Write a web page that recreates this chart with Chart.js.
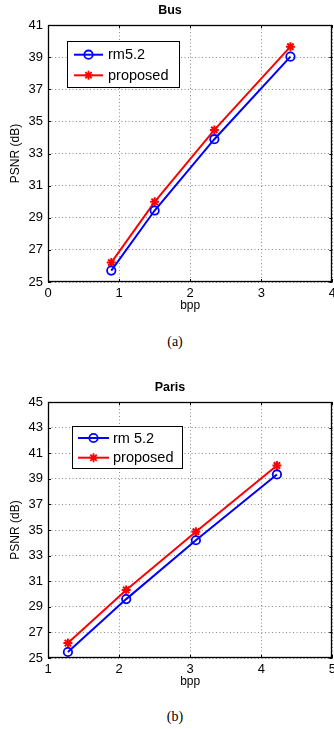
<!DOCTYPE html>
<html>
<head>
<meta charset="utf-8">
<script src="https://cdn.jsdelivr.net/npm/chart.js@4/dist/chart.umd.min.js"></script>
<style>
  html, body { margin: 0; padding: 0; background: #fff; width: 334px; height: 729px; overflow: hidden; }
  .wrap { position: absolute; left: 0; width: 340px; }
  .cap { position: absolute; left: 0; width: 350px; text-align: center; font-family: "Liberation Serif", "Times New Roman", serif; font-size: 14px; line-height: 16px; color: #000; }
</style>
</head>
<body>
<div class="wrap" style="top:0px;height:320px"><canvas id="c1" width="340" height="320"></canvas></div>
<div class="cap" style="top:334px">(a)</div>
<div class="wrap" style="top:377px;height:319px"><canvas id="c2" width="340" height="319"></canvas></div>
<div class="cap" style="top:709px">(b)</div>
<script>
// ---- data ----
const busBpp = [0.89, 1.50, 2.34, 3.41];
const busRm = [25.71, 29.45, 33.89, 39.03];
const busProposed = [26.21, 29.99, 34.47, 39.65];
const busXTicks = [0, 1, 2, 3, 4];
const busYTicks = [25, 27, 29, 31, 33, 35, 37, 39, 41];

const parisBpp = [1.28, 2.10, 3.08, 4.22];
const parisRm = [25.47, 29.60, 34.20, 39.34];
const parisProposed = [26.17, 30.32, 34.87, 40.04];
const parisXTicks = [1, 2, 3, 4, 5];
const parisYTicks = [25, 27, 29, 31, 33, 35, 37, 39, 41, 43, 45];

const FONT = '"Liberation Sans", Arial, Helvetica, sans-serif';

function pts(xs, ys) { return xs.map((x, i) => ({ x: x, y: ys[i] })); }

function drawMarker(ctx, style, x, y, color) {
  ctx.save();
  ctx.strokeStyle = color;
  ctx.lineWidth = 1.8;
  ctx.beginPath();
  if (style === 'circle') {
    ctx.arc(x, y, 4.2, 0, Math.PI * 2);
  } else {
    const r = 4.5;
    for (let k = 0; k < 4; k++) {
      const a = k * Math.PI / 4;
      ctx.moveTo(x - r * Math.cos(a), y - r * Math.sin(a));
      ctx.lineTo(x + r * Math.cos(a), y + r * Math.sin(a));
    }
  }
  ctx.stroke();
  ctx.restore();
}

const framePlugin = {
  id: 'frameLegend',
  afterDraw(chart, args, opts) {
    const ctx = chart.ctx;
    const a = chart.chartArea;
    ctx.save();
    ctx.strokeStyle = '#000';
    ctx.lineWidth = 1;
    const xs = chart.scales.x, ys = chart.scales.y;
    ctx.beginPath();
    xs.ticks.forEach(t => {
      const px = Math.round(xs.getPixelForValue(t.value)) + 0.5;
      ctx.moveTo(px, a.bottom); ctx.lineTo(px, a.bottom - 3);
      ctx.moveTo(px, a.top); ctx.lineTo(px, a.top + 3);
    });
    ys.ticks.forEach(t => {
      const py = Math.round(ys.getPixelForValue(t.value)) + 0.5;
      ctx.moveTo(a.left, py); ctx.lineTo(a.left + 3, py);
      ctx.moveTo(a.right, py); ctx.lineTo(a.right - 3, py);
    });
    ctx.stroke();
    ctx.lineWidth = 1.3;
    ctx.strokeRect(Math.round(a.left) + 0.5, Math.round(a.top) + 0.5, Math.round(a.right - a.left) - 1, Math.round(a.bottom - a.top) - 1);
    const L = opts;
    const bx = a.left + L.dx, by = a.top + L.dy;
    ctx.fillStyle = '#fff';
    ctx.fillRect(bx, by, L.w, L.h);
    ctx.lineWidth = 1;
    ctx.strokeStyle = '#000';
    ctx.strokeRect(Math.round(bx) + 0.5, Math.round(by) + 0.5, L.w, L.h);
    ctx.font = '14.5px ' + FONT;
    ctx.textBaseline = 'middle';
    ctx.textAlign = 'left';
    chart.data.datasets.forEach((ds, i) => {
      const ry = by + L.rows[i];
      ctx.strokeStyle = ds.borderColor;
      ctx.lineWidth = 2;
      ctx.beginPath();
      ctx.moveTo(bx + L.l0, ry); ctx.lineTo(bx + L.l1, ry);
      ctx.stroke();
      drawMarker(ctx, ds.pointStyle, bx + (L.l0 + L.l1) / 2, ry, ds.borderColor);
      ctx.fillStyle = '#000';
      ctx.fillText(ds.label, bx + L.tx, ry + 0.5);
    });
    ctx.restore();
  }
};

function makeChart(id, title, bpp, rm, rmLabel, prop, xTicks, yTicks, legendOpts) {
  return new Chart(document.getElementById(id), {
    type: 'line',
    data: {
      datasets: [
        { label: rmLabel, data: pts(bpp, rm), borderColor: '#0000ff', backgroundColor: 'rgba(0,0,0,0)',
          borderWidth: 2, pointStyle: 'circle', pointRadius: 4.2, pointBorderWidth: 1.8,
          pointBackgroundColor: 'rgba(0,0,0,0)', pointBorderColor: '#0000ff' },
        { label: 'proposed', data: pts(bpp, prop), borderColor: '#ff0000', backgroundColor: 'rgba(0,0,0,0)',
          borderWidth: 2, pointStyle: 'star', pointRadius: 4.5, pointBorderWidth: 2,
          pointBackgroundColor: '#ff0000', pointBorderColor: '#ff0000' }
      ]
    },
    options: {
      responsive: false,
      devicePixelRatio: 1,
      animation: false,
      layout: { padding: 0 },
      plugins: {
        legend: { display: false },
        tooltip: { enabled: false },
        title: { display: true, text: title, color: '#000',
                 font: { family: FONT, size: 12.5, weight: 'bold' },
                 padding: { top: 3.5, bottom: 6.5 } },
        frameLegend: legendOpts
      },
      scales: {
        x: {
          type: 'linear',
          min: xTicks[0], max: xTicks[xTicks.length - 1],
          afterBuildTicks: s => { s.ticks = xTicks.map(v => ({ value: v })); },
          afterFit: s => { s.height = 38; },
          grid: { color: '#8c8c8c', lineWidth: 1, drawTicks: false },
          border: { display: false, dash: [1, 2.5] },
          ticks: { color: '#000', padding: 4, font: { family: FONT, size: 13 }, maxRotation: 0 },
          title: { display: true, text: 'bpp', color: '#000', font: { family: FONT, size: 12 },
                   padding: { top: 0, bottom: 6.8 } }
        },
        y: {
          type: 'linear',
          min: yTicks[0], max: yTicks[yTicks.length - 1],
          afterBuildTicks: s => { s.ticks = yTicks.map(v => ({ value: v })); },
          afterFit: s => { s.width = 48; },
          grid: { color: '#8c8c8c', lineWidth: 1, drawTicks: false },
          border: { display: false, dash: [1, 2.5] },
          ticks: { color: '#000', padding: 5, font: { family: FONT, size: 13 } },
          title: { display: true, text: 'PSNR (dB)', color: '#000', font: { family: FONT, size: 12 },
                   padding: { top: 8, bottom: 0 } }
        }
      }
    },
    plugins: [framePlugin]
  });
}

makeChart('c1', 'Bus', busBpp, busRm, 'rm5.2', busProposed, busXTicks, busYTicks,
  { dx: 19, dy: 16, w: 112, h: 46, rows: [13.7, 34.3], l0: 7, l1: 36, tx: 41 });
makeChart('c2', 'Paris', parisBpp, parisRm, 'rm 5.2', parisProposed, parisXTicks, parisYTicks,
  { dx: 24, dy: 24, w: 110, h: 42, rows: [12, 31.7], l0: 6, l1: 37, tx: 41 });
</script>
</body>
</html>
